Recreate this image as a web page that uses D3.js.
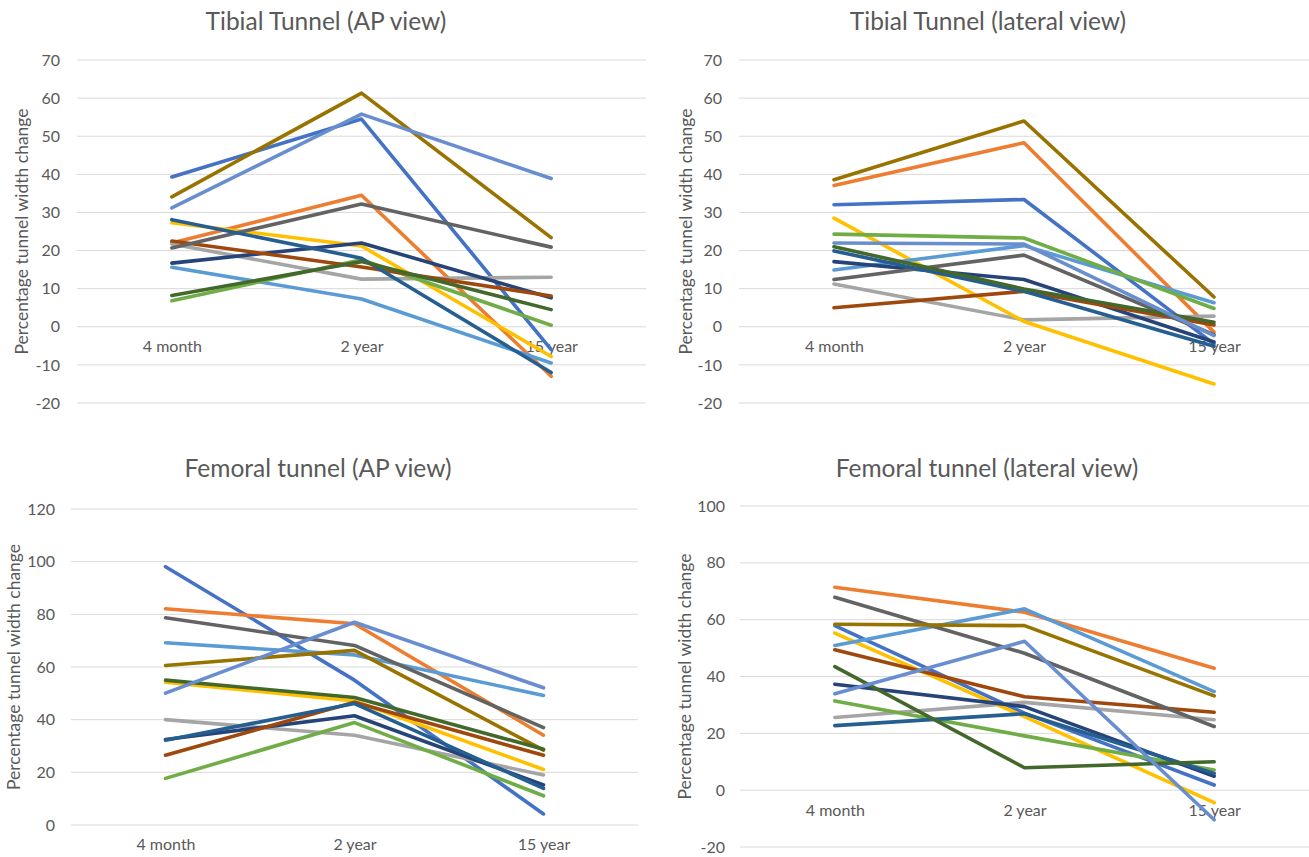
<!DOCTYPE html>
<html>
<head>
<meta charset="utf-8">
<script src="https://cdn.jsdelivr.net/npm/d3@7"></script>
<style>
  body { margin: 0; background: #fff; }
  svg { display: block; font-family: Lato, "Open Sans", sans-serif; }
</style>
</head>
<body>
<script>
// categories on the x axis
const categories = ['4 month', '2 year', '15 year'];

// Excel default series colours, one per patient line
const seriesColors = ['#4472C4', '#ED7D31', '#A5A5A5', '#FFC000', '#5B9BD5', '#70AD47',
  '#264478', '#9E480E', '#636363', '#997300', '#255E91', '#43682B', '#698ED0'];

// values per series: [4 month, 2 year, 15 year]
const tibialAP = [
  [39.3, 54.5, -6], [22, 34.5, -13], [21.7, 12.5, 13], [27.3, 21.2, -7.8],
  [15.6, 7.3, -9.5], [6.8, 17.6, 0.4], [16.7, 22, 7.6], [22.5, 15.7, 8.1],
  [20.7, 32.2, 20.9], [34.1, 61.3, 23.4], [28.1, 18, -12], [8.2, 17.1, 4.5],
  [31.2, 55.8, 38.9]
];
const tibialLat = [
  [32, 33.4, -4.5], [37.1, 48.3, -1.4], [11.2, 1.8, 2.8], [28.5, 1.4, -15],
  [14.9, 21.3, 6.3], [24.3, 23.3, 4.8], [17.1, 12.4, -4], [5, 9.3, 0.5],
  [12.4, 18.8, -2.1], [38.6, 54, 7.8], [19.9, 9.3, -5.1], [21, 9.9, 1.2],
  [22, 21.7, -2.3]
];
const femoralAP = [
  [98.1, 55, 4.2], [82.1, 76.4, 34.1], [40, 34.1, 19], [54.2, 47.1, 21.1],
  [69.2, 64.6, 49.2], [17.7, 38.9, 11.1], [32.5, 41.5, 15.2], [26.5, 46.6, 26.5],
  [78.7, 68.2, 37], [60.6, 66.3, 28.4], [32.2, 46.1, 13.9], [55, 48.4, 28.8],
  [50.1, 77, 52.1]
];
const femoralLat = [
  [57.9, 27.1, 1.8], [71.4, 62.6, 42.9], [25.6, 30.9, 24.8], [55.3, 25.9, -4.4],
  [50.9, 63.8, 34.7], [31.4, 19.1, 7.1], [37.3, 29.4, 4.9], [49.4, 32.9, 27.4],
  [67.9, 48.2, 22.4], [58.4, 57.9, 33.2], [22.7, 26.9, 5.9], [43.5, 7.9, 10],
  [33.9, 52.4, -10.4]
];

// tick labels per panel
const tibialTicks = [-20, -10, 0, 10, 20, 30, 40, 50, 60, 70];
const femoralAPTicks = [0, 20, 40, 60, 80, 100, 120];
const femoralLatTicks = [-20, 0, 20, 40, 60, 80, 100];

const titles = ['Tibial Tunnel (AP view)', 'Tibial Tunnel (lateral view)',
  'Femoral tunnel (AP view)', 'Femoral tunnel (lateral view)'];
const yTitle = 'Percentage tunnel width change';

// panel layout (page pixels)
const panels = [
  { data: tibialAP, ticks: tibialTicks, title: titles[0], x0: 77, x1: 646, top: 60, bottom: 403,
    tickX: 60, yTitleX: 22, titleX: 326, titleY: 30 },
  { data: tibialLat, ticks: tibialTicks, title: titles[1], x0: 739, x1: 1309, top: 60, bottom: 403,
    tickX: 722, yTitleX: 686, titleX: 988, titleY: 30 },
  { data: femoralAP, ticks: femoralAPTicks, title: titles[2], x0: 71, x1: 638, top: 509, bottom: 825,
    tickX: 55, yTitleX: 14, titleX: 318, titleY: 477 },
  { data: femoralLat, ticks: femoralLatTicks, title: titles[3], x0: 740, x1: 1309, top: 506, bottom: 847,
    tickX: 725, yTitleX: 685, titleX: 987, titleY: 477 }
];

const textColor = '#595959';

const svg = d3.select('body').append('svg')
  .attr('width', 1309)
  .attr('height', 857);

panels.forEach((p) => {
  const g = svg.append('g');

  const x = d3.scalePoint()
    .domain(categories)
    .range([p.x0, p.x1])
    .padding(0.5);

  const y = d3.scaleLinear()
    .domain(d3.extent(p.ticks))
    .range([p.bottom, p.top]);

  // gridlines
  g.append('g').selectAll('line')
    .data(p.ticks)
    .join('line')
    .attr('x1', p.x0)
    .attr('x2', p.x1)
    .attr('y1', (d) => y(d))
    .attr('y2', (d) => y(d))
    .attr('stroke', '#D9D9D9')
    .attr('stroke-width', 1);

  // y tick labels (plain hyphen minus, like Excel)
  const yAxis = g.append('g')
    .attr('transform', `translate(${p.tickX + 8},0)`)
    .call(d3.axisLeft(y).tickValues(p.ticks).tickSize(0).tickPadding(8)
      .tickFormat((d) => String(d)));
  yAxis.select('.domain').remove();
  yAxis.selectAll('text')
    .attr('fill', textColor)
    .style('font-size', '16px')
    .style('font-family', 'Lato, sans-serif');

  // category labels sit just under the zero line
  const xAxis = g.append('g')
    .attr('transform', `translate(0,${y(0)})`)
    .call(d3.axisBottom(x).tickSize(0).tickPadding(14));
  xAxis.select('.domain').remove();
  xAxis.selectAll('text')
    .attr('fill', textColor)
    .style('font-size', '16px')
    .style('font-family', 'Lato, sans-serif');

  // y axis title
  g.append('text')
    .attr('transform', `translate(${p.yTitleX},${(p.top + p.bottom) / 2}) rotate(-90)`)
    .attr('text-anchor', 'middle')
    .attr('dy', '0.35em')
    .attr('fill', textColor)
    .style('font-size', '17.5px')
    .text(yTitle);

  // chart title
  g.append('text')
    .attr('x', p.titleX)
    .attr('y', p.titleY)
    .attr('text-anchor', 'middle')
    .attr('fill', textColor)
    .style('font-size', '24.5px')
    .text(p.title);

  // series lines
  const line = d3.line()
    .x((d, i) => x(categories[i]))
    .y((d) => y(d));

  g.append('g').selectAll('path')
    .data(p.data)
    .join('path')
    .attr('d', line)
    .attr('fill', 'none')
    .attr('stroke', (d, i) => seriesColors[i])
    .attr('stroke-width', 3.6)
    .attr('stroke-linejoin', 'round')
    .attr('stroke-linecap', 'round');
});
</script>
</body>
</html>
